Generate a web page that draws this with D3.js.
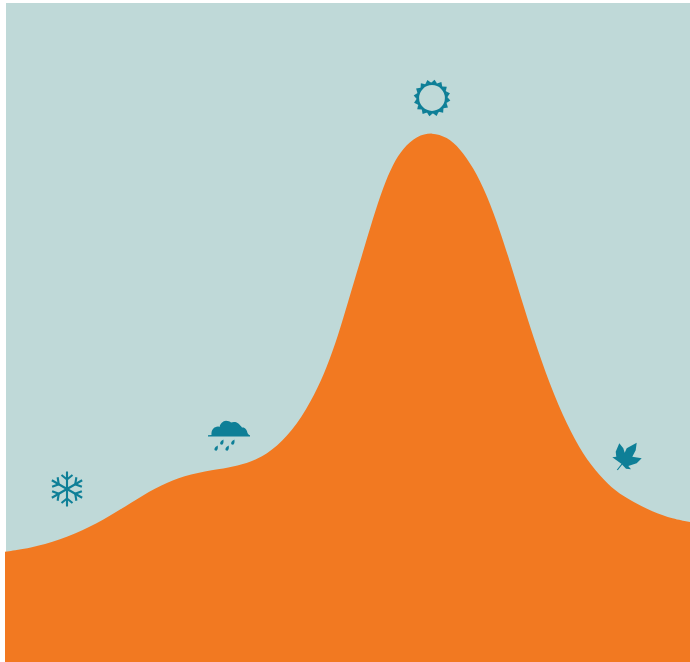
<!DOCTYPE html>
<html><head><meta charset="utf-8">
<style>html,body{margin:0;padding:0;background:#fff}svg{display:block}</style>
<script src="https://cdn.jsdelivr.net/npm/d3@7"></script></head>
<body><svg id="c" width="690" height="662"></svg>
<script>
// Position through the year (plot units) and curve height
const dayPos = [0,25,55,85,112,138,162,185,215,232,252,272,292,310,322,333,343,355,368,378,388,398,412,427,442,455,468,482,495,505,516,528,545,562,578,595,610,628,648,668,685];
const levels = [110.3,113.7,122,134.7,150.3,167,179.7,188,193,196,202,215,237,268,295,326,360,400,444,474.5,498,514,526,529.8,525,513.5,495,467,431,400,364,326,276.5,237,207.5,186,171,160,150,143,140];
const seasons = ["winter","spring","summer","autumn"];
const seasonPos = [62,224,427,622];
const seasonLevel = [173,233,564,205];
const sceneColor="#bfd9d8", areaColor="#f27921", iconColor="#0e7f97";

const svg=d3.select("#c");
const x=d3.scaleLinear().domain([0,685]).range([5,690]);
const y=d3.scaleLinear().domain([0,659]).range([662,3]);
svg.append("rect").attr("x",x(1)).attr("y",y(659)).attr("width",x(685)-x(1)).attr("height",y(0)-y(659)).attr("fill",sceneColor);
const area=d3.area().x(d=>x(d[0])).y0(y(0)).y1(d=>y(d[1])).curve(d3.curveBasis);
svg.append("path").datum(d3.zip(dayPos,levels)).attr("fill",areaColor).attr("d",area);

const draw={
 winter(g){
  g.attr("stroke",iconColor).attr("fill","none").attr("stroke-width",2.1);
  d3.range(6).forEach(i=>{
   const a=g.append("g").attr("transform",`rotate(${i*60})`);
   a.append("path").attr("d","M0,0V-17.5");
   a.append("path").attr("d","M-5.5,-14L0,-9.5L5.5,-14");
  });
 },
 spring(g){
  g.attr("fill",iconColor);
  g.append("path").attr("d","M-21,7.5L-21,6.3L-17.5,6C-18,1 -15,-2.5 -11,-2.5C-10,-2.5 -10,-2 -9.5,-2C-9,-5 -6,-8.3 -3,-8.3C-1,-8.3 1,-7.5 2,-6.5C4,-7.5 8,-7.5 10,-5C11,-3.5 12,-3 13,-1.5C16,-2 18,1 18.5,4C19,5 20,6 21,6.3L21,7.5Z");
  [[-12.7,19.3],[-7,13.3],[-1.7,19.3],[4,13.3]].forEach(p=>{
   g.append("path").attr("transform",`translate(${p[0]},${p[1]}) rotate(25)`).attr("d","M0,-3.2C2,-0.5 2,2.4 0,2.4C-2,2.4 -2,-0.5 0,-3.2Z");
  });
 },
 summer(g){
  g.append("circle").attr("r",14.2).attr("fill","none").attr("stroke",iconColor).attr("stroke-width",2.6);
  d3.range(16).forEach(i=>{
   g.append("path").attr("transform",`rotate(${i*22.5+8})`).attr("fill",iconColor).attr("d","M-3,-15L0,-18.5L3,-15Z");
  });
 },
 autumn(g){
  g.attr("fill",iconColor);
  g.append("path").attr("d","M-5.3,7L-14.7,0.3L-10.7,-0.3L-11.3,-5.3L-7.7,-13.7L-3.7,-8.7L-2.3,-4.3L-0.3,-8.7L9.7,-14.3L8.7,-6.7L5.3,-0.3L14.7,1.3L9.7,6.3L1.3,9L4,12.3L-1,11.7L-4.5,8Z");
  g.append("path").attr("d","M-5,7L-9.7,13").attr("stroke",iconColor).attr("stroke-width",1.2).attr("fill","none");
 }
};
const icons=svg.append("g").selectAll("g").data(seasons).join("g")
 .attr("transform",(d,i)=>`translate(${x(seasonPos[i])},${y(seasonLevel[i])})`)
 .each(function(d){draw[d](d3.select(this));});
</script></body></html>
